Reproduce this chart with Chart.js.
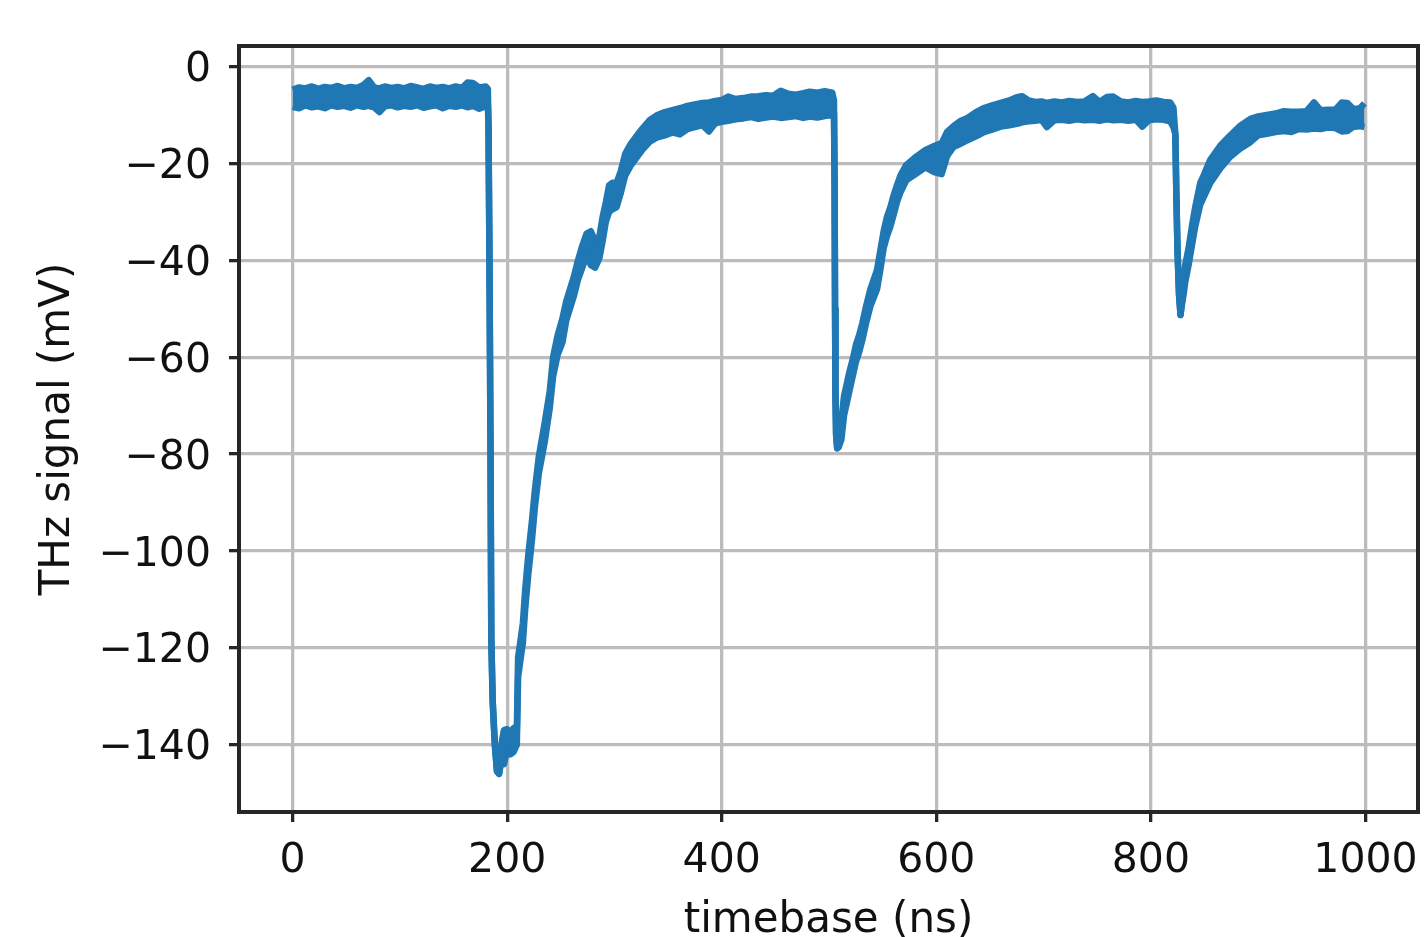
<!DOCTYPE html>
<html><head><meta charset="utf-8">
<script src="https://cdn.jsdelivr.net/npm/chart.js@4.4.1/dist/chart.umd.min.js"></script>
<style>html,body{margin:0;padding:0;background:#fff;overflow:hidden}canvas{display:block}</style>
</head><body>
<canvas id="c" width="1424" height="937"></canvas>
<script>
// Time axis of the read-off envelope (ns)
const timeNs = [0,6,12,18,24,30,36,42,48,54,60,66,71,76,81,86,92,98,104,110,116,122,128,134,140,146,152,158,163,168,174,180,182,
182.6,183.5,184.5,185.2,186.5,188.5,190.5,192.5,194.5,197,200,203,206,209,
210.2,214.6,216.8,219.6,223,225.8,229.5,235,239.7,242.8,247,251.5,255,262,266,270,274,278,282,286,289,292,295,298,302,306,310,315,320,326,333,
340,347,354,361,368,375,382,388,394,400,406,413,420,427,434,441,448,455,462,469,476,482,489,496,503,
504.6,505.2,505.6,506.0,506.6,507.6,509,511.5,514,516.5,519,522,525,528,531,534.5,538.5,544.7,547.8,550.9,554,557.2,560.3,563.3,566.5,
572,580,590,598,605,610,616,622,629,637,645,652,660,668,675,680,686,692,698,703,710,717,724,731,738,746,752,759,765,772,779,786,792,798,805,812,818,
821,822.8,823.6,824.8,826.2,827.6,829,830.5,832,835.1,838.2,841.3,846,849.1,855.4,864.7,874,883.4,892.7,
900,908,916,924,931,938,945,952,958,965,972,978,983,989,995,999];
// Upper edge of the noisy trace (mV)
const upperMv = [-4.8,-4.3,-4.5,-4.1,-4.6,-4.2,-4.4,-4.0,-4.5,-4.2,-4.4,-3.8,-2.8,-4.3,-4.5,-4.1,-4.4,-4.2,-4.5,-4.0,-4.3,-4.6,-4.1,-4.4,-4.2,-4.5,-4.1,-4.4,-3.3,-3.4,-4.3,-4.1,-4.6,
-12,-40,-80,-118,-131,-140,-145.5,-146,-140,-137,-136.8,-137.5,-136.6,-137,
-122,-115,-108,-101,-94,-87.5,-80.5,-73.5,-67,-60,-55.5,-52,-48.5,-43.5,-40,-37,-34.5,-34,-36,-35,-31,-28,-24.5,-24,-24,-21.5,-18,-16,-14.5,-12.8,-11,
-10.0,-9.4,-9.0,-8.6,-8.1,-7.8,-7.5,-7.4,-7.1,-6.9,-6.2,-6.7,-6.5,-6.2,-6.1,-5.9,-6.0,-5.0,-5.6,-5.8,-5.5,-5.2,-5.4,-5.1,-5.4,
-7,-25,-50,-68,-76,-78.8,-78.5,-73,-68,-65.5,-63,-60.5,-57.5,-55.5,-53,-49.5,-46,-42,-38,-34,-31,-29,-26.5,-24.5,-22.5,
-20.3,-18.8,-17.2,-16.4,-15.8,-13.5,-12.3,-11.3,-10.6,-9.4,-8.5,-8.0,-7.5,-7.0,-6.3,-6.1,-7.0,-7.3,-7.2,-7.5,-7.2,-7.4,-7.1,-7.3,-7.2,-6.1,-7.3,-6.3,-6.2,-7.2,-7.4,-7.1,-7.3,-7.2,-7.0,-7.3,-7.4,
-8.5,-14,-25,-38,-47,-51.3,-48,-43.5,-41,-37.5,-33,-29,-24,-22.5,-19.2,-16.3,-14.2,-12.2,-10.8,
-10.3,-10.0,-9.7,-9.2,-9.3,-9.3,-9.2,-7.4,-9.0,-8.9,-8.9,-7.4,-7.5,-8.8,-8.6,-7.6];
// Lower edge of the noisy trace (mV)
const lowerMv = [-8.3,-8.6,-8.0,-8.4,-8.2,-8.6,-8.0,-8.3,-8.1,-8.5,-8.0,-8.3,-8.1,-8.4,-9.4,-8.2,-8.0,-8.4,-8.1,-8.3,-8.0,-8.5,-8.2,-8.0,-8.6,-8.1,-8.3,-8.0,-8.4,-8.1,-8.7,-8.2,-8.0,
-12,-40,-80,-118,-131,-140,-145.5,-146,-143.5,-144,-141,-142,-141.5,-140,
-126,-119,-112,-105,-98,-91,-84,-77.5,-70.5,-64,-59.5,-57,-52.5,-47.5,-44,-41.5,-39,-41,-41.5,-39.5,-36,-32,-30,-29.5,-29,-26,-22.5,-20.5,-19,-17.2,-15.5,
-14.6,-14.2,-13.6,-14.0,-12.9,-12.5,-12.1,-13.4,-11.7,-11.4,-11.2,-10.9,-10.7,-10.4,-10.8,-10.5,-10.3,-10.6,-10.4,-10.2,-10.6,-10.3,-10.5,-10.2,-10.0,
-9.5,-25,-50,-68,-76,-78.8,-78.5,-77,-72,-69.5,-67,-64,-61,-59,-56.5,-53,-49.5,-46,-42,-37.5,-35,-33,-30.5,-28,-26,
-23.5,-22.3,-20.8,-21.8,-22.2,-18.5,-16.6,-16.0,-15.2,-14.4,-13.5,-13.0,-12.4,-12.1,-11.8,-11.5,-11.3,-11.2,-11.0,-12.5,-11.1,-11.0,-11.2,-10.9,-11.1,-11.0,-11.2,-10.9,-11.1,-11.0,-11.2,-11.0,-12.4,-11.1,-10.9,-11.0,-11.3,
-12.5,-14,-25,-38,-47,-51.3,-49,-47,-44.5,-41,-37,-33,-28.5,-27,-24,-21,-18.6,-16.9,-15.6,
-14.2,-13.9,-13.5,-13.3,-13.5,-12.9,-13.0,-12.8,-12.9,-12.6,-12.7,-13.4,-13.3,-12.4,-12.3,-12.5];
const xTickValues = [0,200,400,600,800,1000];
const yTickValues = [0,-20,-40,-60,-80,-100,-120,-140];
const xTitle = 'timebase (ns)';
const yTitle = 'THz signal (mV)';

const lineColor = '#1f77b4';
const inkColor = '#111111';
const fmt = v => (v < 0 ? '\u2212' + Math.abs(v) : String(v));

const upperData = timeNs.map((t, i) => ({x: t, y: upperMv[i]}));
const lowerData = timeNs.map((t, i) => ({x: t, y: lowerMv[i]}));

const frame = {
  id: 'frame',
  afterDatasetsDraw(chart) {
    const {ctx, chartArea: a} = chart;
    ctx.save();
    ctx.strokeStyle = '#262626';
    ctx.lineWidth = 4;
    ctx.strokeRect(a.left, a.top, a.right - a.left, a.bottom - a.top);
    ctx.restore();
  }
};

new Chart(document.getElementById('c').getContext('2d'), {
  type: 'line',
  data: {
    datasets: [
      {data: upperData, borderColor: lineColor, borderWidth: 6.5, pointRadius: 0, fill: false, tension: 0, borderJoinStyle: 'round'},
      {data: lowerData, borderColor: lineColor, backgroundColor: lineColor, borderWidth: 6.5, pointRadius: 0, fill: '-1', tension: 0, borderJoinStyle: 'round'}
    ]
  },
  options: {
    responsive: false,
    animation: false,
    devicePixelRatio: 1,
    layout: {padding: {left: 0, right: 6, top: 46, bottom: 0}},
    plugins: {legend: {display: false}, tooltip: {enabled: false}},
    scales: {
      x: {
        type: 'linear', min: -49.95, max: 1048.95,
        afterBuildTicks: s => { s.ticks = xTickValues.map(v => ({value: v})); },
        afterFit: s => { s.height = 125; s.paddingLeft = 0; s.paddingRight = 0; },
        ticks: {font: {family: 'DejaVu Sans', size: 41}, color: inkColor, padding: 15, maxRotation: 0, autoSkip: false, callback: v => fmt(v)},
        grid: {color: '#bcbcbc', lineWidth: 3.3, tickLength: 10, tickColor: '#262626', tickWidth: 3.3},
        border: {display: true, color: '#262626', width: 4},
        title: {display: true, text: xTitle, color: inkColor, font: {family: 'DejaVu Sans', size: 42, lineHeight: 0.76}, padding: {top: 0, bottom: 0}}
      },
      y: {
        type: 'linear', min: -153.9, max: 4.25,
        afterBuildTicks: s => { s.ticks = yTickValues.map(v => ({value: v})); },
        afterFit: s => { s.width = 239; s.paddingTop = 0; s.paddingBottom = 0; },
        ticks: {font: {family: 'DejaVu Sans', size: 41}, color: inkColor, padding: 18, labelOffset: 4, autoSkip: false, callback: v => fmt(v)},
        grid: {color: '#bcbcbc', lineWidth: 3.3, tickLength: 10, tickColor: '#262626', tickWidth: 3.3},
        border: {display: true, color: '#262626', width: 4},
        title: {display: true, text: yTitle, color: inkColor, font: {family: 'DejaVu Sans', size: 42, lineHeight: 1}, padding: {top: 37, bottom: 0}}
      }
    }
  },
  plugins: [frame]
});
</script>
</body></html>
